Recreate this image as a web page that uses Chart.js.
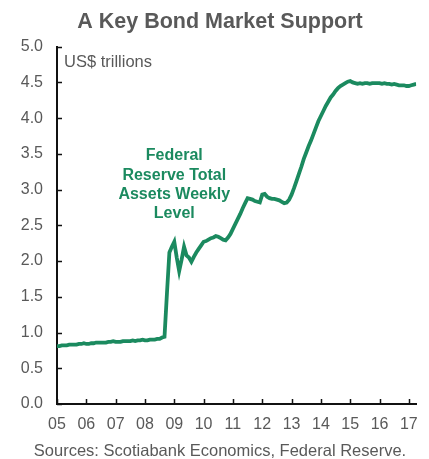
<!DOCTYPE html>
<html>
<head>
<meta charset="utf-8">
<script src="https://cdn.jsdelivr.net/npm/chart.js@4.4.1/dist/chart.umd.min.js"></script>
<style>
  html, body { margin: 0; padding: 0; background: #ffffff; }
  #wrap { width: 429px; height: 459px; }
</style>
</head>
<body>
<div id="wrap"><canvas id="fedAssets" width="429" height="459"></canvas></div>
<script>
"use strict";

// Fed total assets, US$ trillions, one reading per month starting Jan 2005
const startYear = 2005;
const assets2005 = [0.81, 0.81, 0.82, 0.82, 0.82, 0.83, 0.83, 0.83, 0.83, 0.84, 0.84, 0.85];
const assets2006 = [0.84, 0.84, 0.85, 0.85, 0.86, 0.86, 0.86, 0.86, 0.86, 0.87, 0.87, 0.88];
const assets2007 = [0.87, 0.87, 0.87, 0.88, 0.88, 0.88, 0.88, 0.89, 0.88, 0.89, 0.89, 0.90];
const assets2008 = [0.89, 0.89, 0.90, 0.90, 0.90, 0.91, 0.91, 0.93, 0.94, 1.55, 2.12, 2.20];
const assets2009 = [2.27, 2.05, 1.86, 2.02, 2.20, 2.08, 2.05, 1.99, 2.06, 2.12, 2.17, 2.22];
const assets2010 = [2.27, 2.28, 2.30, 2.32, 2.33, 2.35, 2.34, 2.32, 2.30, 2.29, 2.33, 2.38];
const assets2011 = [2.45, 2.52, 2.59, 2.66, 2.74, 2.81, 2.88, 2.87, 2.86, 2.84, 2.83, 2.82];
const assets2012 = [2.93, 2.94, 2.90, 2.88, 2.87, 2.87, 2.86, 2.85, 2.83, 2.81, 2.82, 2.86];
const assets2013 = [2.93, 3.02, 3.12, 3.22, 3.32, 3.43, 3.52, 3.61, 3.69, 3.78, 3.87, 3.96];
const assets2014 = [4.03, 4.10, 4.17, 4.23, 4.29, 4.33, 4.38, 4.42, 4.45, 4.47, 4.49, 4.51];
const assets2015 = [4.52, 4.50, 4.49, 4.48, 4.49, 4.48, 4.49, 4.49, 4.48, 4.49, 4.49, 4.49];
const assets2016 = [4.49, 4.48, 4.49, 4.48, 4.48, 4.47, 4.48, 4.47, 4.46, 4.46, 4.46, 4.45];
const assets2017 = [4.45, 4.46, 4.47, 4.48];

const xTickYears  = [2005, 2006, 2007, 2008, 2009, 2010, 2011, 2012, 2013, 2014, 2015, 2016, 2017];
const xTickLabels = ["05", "06", "07", "08", "09", "10", "11", "12", "13", "14", "15", "16", "17"];
const yTicks      = [0, 0.5, 1, 1.5, 2, 2.5, 3, 3.5, 4, 4.5, 5];

const titleText  = "A Key Bond Market Support";
const sourceText = "Sources: Scotiabank Economics, Federal Reserve.";
const unitText   = "US$ trillions";
const noteLines  = ["Federal", "Reserve Total", "Assets Weekly", "Level"];

const GREEN = "#1b8a5f";
const GREY  = "#595959";
const FONT  = "'Liberation Sans', Arial, sans-serif";

const monthly = [].concat(assets2005, assets2006, assets2007, assets2008, assets2009,
    assets2010, assets2011, assets2012, assets2013, assets2014, assets2015, assets2016, assets2017);
const points = monthly.map((v, i) => ({x: startYear + i / 12, y: v}));

// title, source line, inside ticks and the text inside the plot
const extrasPlugin = {
    id: "extras",
    afterDraw(chart)
    {
        const ctx = chart.ctx;
        const xs  = chart.scales.x;
        const ys  = chart.scales.y;
        const area = chart.chartArea;

        ctx.save();
        ctx.strokeStyle = "#111111";
        ctx.lineWidth   = 1.5;
        ctx.beginPath();
        yTicks.forEach(v =>
        {
            const py = Math.round(ys.getPixelForValue(v)) + 0.5;
            ctx.moveTo(area.left, py);
            ctx.lineTo(area.left + 5, py);
        });
        xTickYears.forEach(v =>
        {
            const px = Math.round(xs.getPixelForValue(v)) + 0.5;
            ctx.moveTo(px, area.bottom);
            ctx.lineTo(px, area.bottom - 5);
        });
        ctx.stroke();

        ctx.textBaseline = "middle";
        ctx.textAlign    = "center";
        ctx.fillStyle    = GREY;
        ctx.font         = "bold 21.5px " + FONT;
        ctx.fillText(titleText, 220, 22);
        ctx.font         = "16.5px " + FONT;
        ctx.fillText(sourceText, 220, 451);

        ctx.textAlign = "left";
        ctx.fillText(unitText, area.left + 7, area.top + 15.5);

        ctx.fillStyle = GREEN;
        ctx.font      = "bold 16px " + FONT;
        ctx.textAlign = "center";
        const cx = xs.getPixelForValue(2009.0);
        const cy = ys.getPixelForValue(3.5) + 2;
        noteLines.forEach((line, i) => ctx.fillText(line, cx, cy + i * 19.3));
        ctx.restore();
    }
};

new Chart(document.getElementById("fedAssets").getContext("2d"), {
    type:    "line",
    data:    {
        datasets: [
            {
                data:        points,
                borderColor: GREEN,
                borderWidth: 3.8,
                pointRadius: 0,
                tension:     0,
                fill:        false
            }
        ]
    },
    options: {
        responsive:  false,
        animation:   false,
        layout:      {padding: {left: 0, right: 12, top: 46.7, bottom: 23}},
        scales:      {
            x: {
                type:            "linear",
                min:             2005,
                max:             2017.25,
                afterFit:        scale =>
                                 {
                                     scale.height = 32;
                                 },
                afterBuildTicks: scale =>
                                 {
                                     scale.ticks = xTickYears.map(v => ({value: v}));
                                 },
                ticks:           {
                    autoSkip:    false,
                    maxRotation: 0,
                    padding:     11,
                    color:       GREY,
                    font:        {family: FONT, size: 16},
                    callback:    value => xTickLabels[xTickYears.indexOf(value)]
                },
                grid:            {drawOnChartArea: false, drawTicks: false},
                border:          {color: "#111111", width: 2}
            },
            y: {
                min:      0,
                max:      5,
                afterFit: scale =>
                          {
                              scale.width = 57;
                          },
                afterBuildTicks: scale =>
                                 {
                                     scale.ticks = yTicks.map(v => ({value: v}));
                                 },
                ticks:    {
                    padding:  14,
                    color:    GREY,
                    font:     {family: FONT, size: 16},
                    callback: value => value.toFixed(1)
                },
                grid:     {drawOnChartArea: false, drawTicks: false},
                border:   {color: "#111111", width: 2}
            }
        },
        plugins:     {
            legend:  {display: false},
            tooltip: {enabled: false},
            title:   {display: false}
        }
    },
    plugins: [extrasPlugin]
});
</script>
</body>
</html>
